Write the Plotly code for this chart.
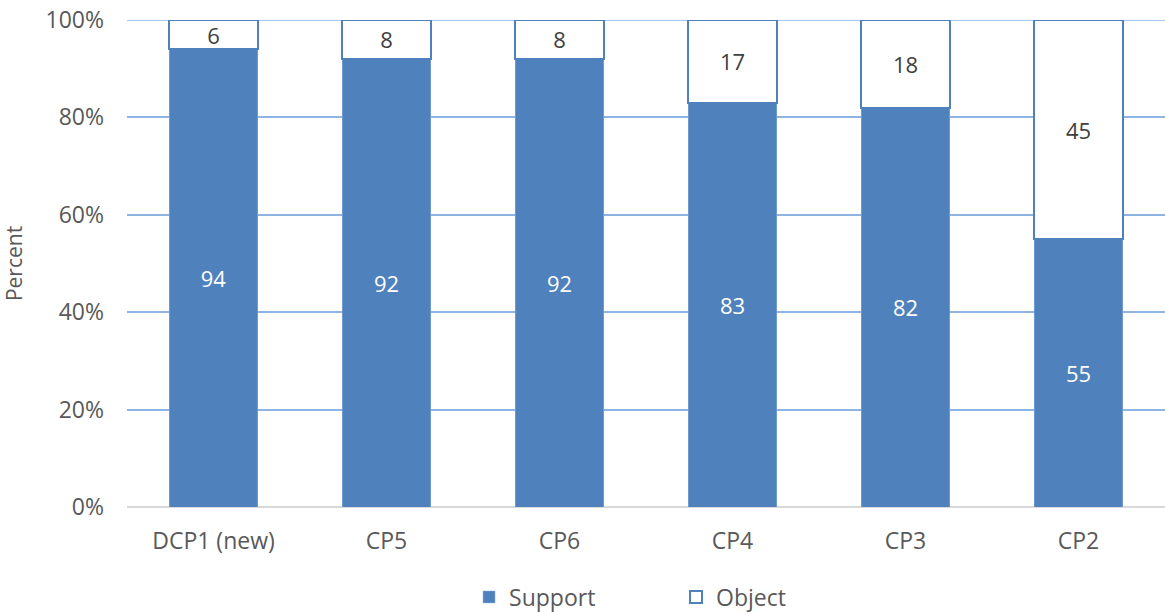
import plotly.graph_objects as go

categories = ["DCP1 (new)", "CP5", "CP6", "CP4", "CP3", "CP2"]
support = [94, 92, 92, 83, 82, 55]
obj = [6, 8, 8, 17, 18, 45]
y_ticks = [0, 20, 40, 60, 80, 100]
y_tick_labels = ["0%", "20%", "40%", "60%", "80%", "100%"]

FONT = "Open Sans"
BLUE = "#4F81BD"
GRID = "#8EB4E3"
FS = 23

fig = go.Figure()
fig.add_trace(go.Bar(
    x=categories, y=support, name="Support",
    marker=dict(color=BLUE, line=dict(color=GRID, width=0.5)),
    text=[str(v) for v in support], textposition="inside", insidetextanchor="middle",
    textangle=0, constraintext="none",
    textfont=dict(color="white", size=22, family=FONT),
    width=0.51,
))
fig.add_trace(go.Bar(
    x=categories, y=obj, name="Object",
    marker=dict(color="white", line=dict(color=BLUE, width=2)),
    text=[str(v) for v in obj], textposition="inside", insidetextanchor="middle",
    textangle=0, constraintext="none",
    textfont=dict(color="#404040", size=22, family=FONT),
    width=0.51,
))

# top gridline (plotly drops the gridline at the range edge)
fig.add_shape(type="line", xref="paper", yref="y", x0=0, x1=1,
              y0=y_ticks[-1], y1=y_ticks[-1], line=dict(color=GRID, width=1.5),
              layer="below")

fig.update_layout(
    barmode="stack",
    width=1165, height=612,
    margin=dict(l=127, r=0, t=20, b=105),
    paper_bgcolor="white", plot_bgcolor="white",
    font=dict(family=FONT, size=FS, color="#595959"),
    showlegend=True,
    legend=dict(orientation="h", xref="container", yref="container",
                x=0.4026, xanchor="left", y=0.0245, yanchor="middle",
                font=dict(size=FS, color="#595959"), traceorder="normal",
                entrywidth=162, entrywidthmode="pixels", itemwidth=30),
    uniformtext=dict(minsize=10, mode="show"),
)
fig.update_xaxes(showgrid=False, showline=False, ticks="", automargin=False,
                 ticklabelstandoff=18,
                 tickfont=dict(size=FS, color="#595959"))
fig.update_yaxes(range=[0, 100], tickvals=y_ticks, ticktext=y_tick_labels,
                 automargin=False, ticklabeloverflow="allow",
                 showgrid=True, gridcolor=GRID, gridwidth=1.5,
                 zeroline=True, zerolinecolor="#D9D9D9", zerolinewidth=2,
                 title=dict(text="Percent", font=dict(size=21, color="#595959"), standoff=26),
                 tickfont=dict(size=FS, color="#595959"), ticklabelstandoff=22)

fig.write_html("out.html", config={"displayModeBar": False},
               post_script="document.body.style.margin='0';")
